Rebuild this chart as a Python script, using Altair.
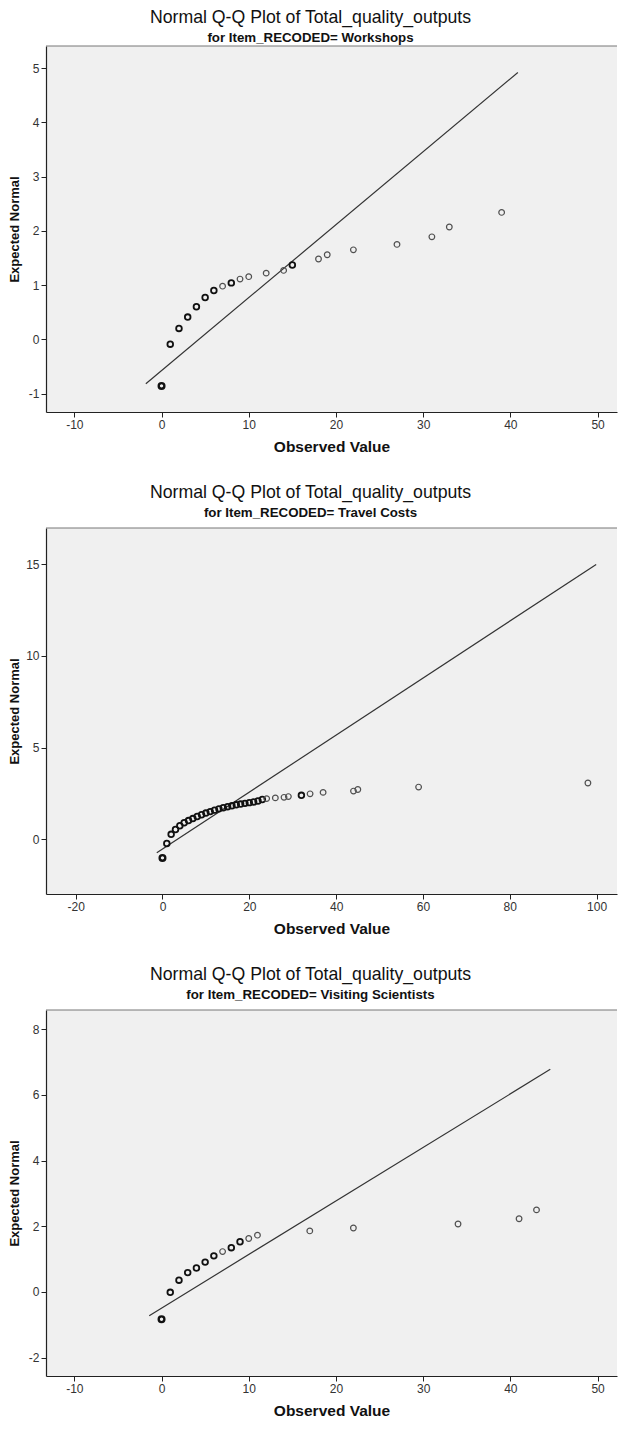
import altair as alt
import pandas as pd

main_title = "Normal Q-Q Plot of Total_quality_outputs"
x_title = "Observed Value"
y_title = "Expected Normal"

# Panel 1: Workshops
ws_sub = "for Item_RECODED= Workshops"
ws_obs = [0, 1, 2, 3, 4, 5, 6, 7, 8, 9, 10, 12, 14, 15, 18, 19, 22, 27, 31, 33, 39]
ws_exp = [-0.86, -0.09, 0.20, 0.41, 0.60, 0.77, 0.90, 0.98, 1.04, 1.11, 1.155,
          1.22, 1.27, 1.37, 1.48, 1.56, 1.65, 1.75, 1.89, 2.07, 2.34]
ws_n = [9, 3, 2, 2, 2, 2, 2, 1, 2, 1, 1, 1, 1, 2, 1, 1, 1, 1, 1, 1, 1]
ws_line_x = [-1.80, 40.86]
ws_line_y = [-0.82, 4.92]
ws_xticks = [-10, 0, 10, 20, 30, 40, 50]
ws_yticks = [-1, 0, 1, 2, 3, 4, 5]

# Panel 2: Travel Costs
tc_sub = "for Item_RECODED= Travel Costs"
tc_obs = [0, 1, 2, 3, 4, 5, 6, 7, 8, 9, 10, 11, 12, 13, 14, 15, 16, 17, 18, 19,
          20, 21, 22, 23, 24, 26, 28, 29, 32, 34, 37, 44, 45, 59, 98]
tc_exp = [-1.03, -0.24, 0.26, 0.52, 0.73, 0.89, 1.01, 1.12, 1.23, 1.33, 1.42,
          1.50, 1.58, 1.65, 1.71, 1.77, 1.82, 1.87, 1.91, 1.95, 1.99, 2.03,
          2.08, 2.16, 2.21, 2.25, 2.28, 2.32, 2.39, 2.47, 2.55, 2.62, 2.71,
          2.84, 3.06]
tc_n = [9, 3, 2, 2, 2, 2, 2, 2, 2, 2, 2, 2, 2, 2, 2, 2, 2, 2, 2, 2, 2, 2, 2, 2,
        1, 1, 1, 1, 2, 1, 1, 1, 1, 1, 1]
tc_line_x = [-1.31, 99.9]
tc_line_y = [-0.75, 15.0]
tc_xticks = [-20, 0, 20, 40, 60, 80, 100]
tc_yticks = [0, 5, 10, 15]

# Panel 3: Visiting Scientists
vs_sub = "for Item_RECODED= Visiting Scientists"
vs_obs = [0, 1, 2, 3, 4, 5, 6, 7, 8, 9, 10, 11, 17, 22, 34, 41, 43]
vs_exp = [-0.83, -0.01, 0.36, 0.59, 0.73, 0.91, 1.10, 1.23, 1.35, 1.53, 1.63,
          1.73, 1.86, 1.95, 2.07, 2.23, 2.50]
vs_n = [9, 3, 2, 2, 2, 2, 2, 1, 2, 2, 1, 1, 1, 1, 1, 1, 1]
vs_line_x = [-1.41, 44.58]
vs_line_y = [-0.72, 6.78]
vs_xticks = [-10, 0, 10, 20, 30, 40, 50]
vs_yticks = [-2, 0, 2, 4, 6, 8]

FONT = "Liberation Sans"
W, H = 571, 366


def panel(sub, obs, exp, n, lx, ly, xdom, ydom, xticks, yticks, offset):
    pts = pd.DataFrame({"obs": obs, "exp": exp, "n": n})
    ln = pd.DataFrame({"obs": lx, "exp": ly})
    xs = alt.Scale(domain=xdom, nice=False, zero=False)
    ys = alt.Scale(domain=ydom, nice=False, zero=False)
    xaxis = alt.Axis(values=xticks, title=x_title, labelExpr="datum.value + ''",
                     titleFontSize=15.5, titleY=34, titleBaseline="middle")
    yaxis = alt.Axis(values=yticks, title=y_title, labelExpr="datum.value + ''",
                     titleFontSize=13, titleX=-32, titleY=H / 2, titleAngle=270,
                     titleAlign="center", titleBaseline="middle")
    frame_top = alt.Chart(pd.DataFrame({"k": [0]})).mark_rule(
        color="#777777", strokeWidth=1
    ).encode(x=alt.value(0), x2=alt.value(W), y=alt.value(0))
    line = alt.Chart(ln).mark_line(color="#333333", strokeWidth=1.2, clip=True).encode(
        x=alt.X("obs:Q", scale=xs, axis=xaxis),
        y=alt.Y("exp:Q", scale=ys, axis=yaxis),
    )
    points = alt.Chart(pts).mark_point(shape="circle", filled=False, size=32, opacity=1).encode(
        x=alt.X("obs:Q", scale=xs),
        y=alt.Y("exp:Q", scale=ys),
        stroke=alt.when(alt.datum.n > 1).then(alt.value("#111111")).otherwise(alt.value("#505050")),
        strokeWidth=alt.when(alt.datum.n > 3).then(alt.value(2.4))
        .when(alt.datum.n > 1).then(alt.value(1.8))
        .otherwise(alt.value(1.2)),
    )
    return alt.layer(line, points, frame_top).properties(
        width=W, height=H,
        title=alt.TitleParams(
            text=main_title, subtitle=sub, fontSize=17.7, font=FONT,
            fontWeight="normal", color="#111111", subtitleFont=FONT,
            subtitleFontSize=13.3, subtitleFontWeight="bold",
            subtitleColor="#111111", subtitlePadding=5, offset=offset,
            anchor="middle", dx=-21,
        ),
    )


p1 = panel(ws_sub, ws_obs, ws_exp, ws_n, ws_line_x, ws_line_y,
           [-13.25, 52.23], [-1.341, 5.409], ws_xticks, ws_yticks, 1)
p2 = panel(tc_sub, tc_obs, tc_exp, tc_n, tc_line_x, tc_line_y,
           [-26.83, 104.7], [-3.0, 16.99], tc_xticks, tc_yticks, 8)
p3 = panel(vs_sub, vs_obs, vs_exp, vs_n, vs_line_x, vs_line_y,
           [-13.25, 52.23], [-2.558, 8.587], vs_xticks, vs_yticks, 8)

chart = alt.vconcat(p1, p2, p3, spacing=28).properties(padding=0).configure_view(
    fill="#f0f0f0", stroke=None
).configure_axis(
    grid=False, domainColor="#222222", domainWidth=1.2, tickColor="#222222",
    tickSize=5, labelPadding=2, labelFont=FONT, labelFontSize=12,
    labelColor="#333333", titleFont=FONT, titleFontWeight="bold",
    titleColor="#111111",
)

chart.save("out.html", embed_options={"renderer": "svg", "actions": False})
